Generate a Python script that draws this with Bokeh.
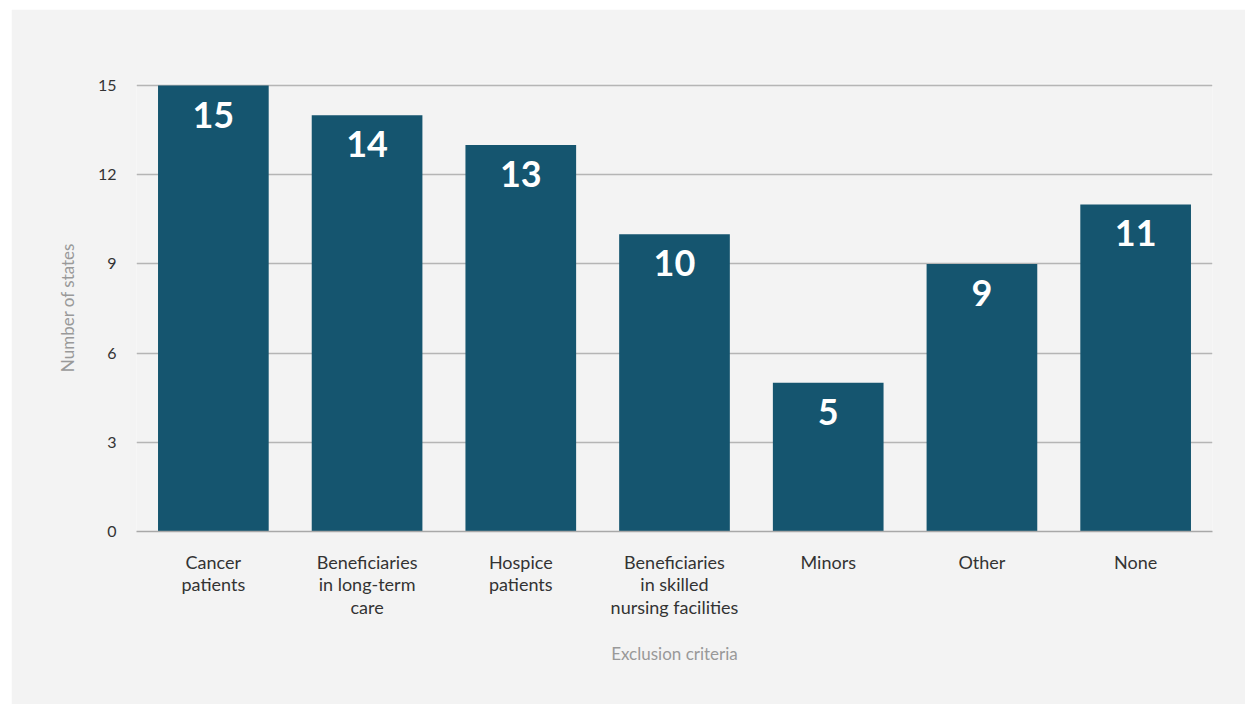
from bokeh.plotting import figure
from bokeh.models import ColumnDataSource, FactorRange, Range1d, FixedTicker
from bokeh.core.properties import value
from bokeh.embed import file_html
from bokeh.resources import INLINE

categories = ["Cancer patients", "Beneficiaries in long-term care", "Hospice patients",
              "Beneficiaries in skilled nursing facilities", "Minors", "Other", "None"]
tick_labels = ["Cancer\npatients", "Beneficiaries\nin long-term\ncare", "Hospice\npatients",
               "Beneficiaries\nin skilled\nnursing facilities", "Minors", "Other", "None"]
counts = [15, 14, 13, 10, 5, 9, 11]
y_ticks = [0, 3, 6, 9, 12, 15]

BG = "#f3f3f3"
BAR = "#15556f"
FONT = "Lato"

# factors are the displayed (multi-line) tick labels, in category order
factor_of = dict(zip(categories, tick_labels))
src = ColumnDataSource(dict(cat=[factor_of[c] for c in categories], count=counts,
                            label=[str(c) for c in counts]))

p = figure(x_range=FactorRange(factors=tick_labels), y_range=Range1d(0, 15.07),
           width=1234, height=695, output_backend="svg", toolbar_location=None,
           min_border_left=125, min_border_right=33, min_border_top=74, min_border_bottom=173,
           background_fill_color=BG, border_fill_color=BG, outline_line_color=None)
p.margin = (9, 0, 0, 11)

p.vbar(x="cat", top="count", width=0.72, source=src, fill_color=BAR, line_color=None)
p.text(x="cat", y="count", text="label", source=src, text_color="white",
       text_font=value(FONT), text_font_style="bold", text_font_size="36px",
       text_align="center", text_baseline="top", y_offset=16)

p.xgrid.grid_line_color = None
p.ygrid.grid_line_color = "#b5b5b5"
p.ygrid.grid_line_width = 1.5
p.yaxis.ticker = FixedTicker(ticks=y_ticks)

p.xaxis.axis_line_color = "#a8a8a8"
p.xaxis.axis_line_width = 1.5
p.xaxis.major_tick_line_color = None
p.xaxis.minor_tick_line_color = None
p.xaxis.major_label_standoff = 13
p.xaxis.major_label_text_font = FONT
p.xaxis.major_label_text_font_size = "18px"
p.xaxis.major_label_text_color = "#333333"
p.xaxis.major_label_text_line_height = 1.03
p.xaxis.axis_label = "Exclusion criteria"
p.xaxis.axis_label_text_font = FONT
p.xaxis.axis_label_text_font_style = "normal"
p.xaxis.axis_label_text_font_size = "17px"
p.xaxis.axis_label_text_color = "#999999"
p.xaxis.axis_label_standoff = 22

p.yaxis.axis_line_color = None
p.yaxis.major_tick_line_color = None
p.yaxis.minor_tick_line_color = None
p.yaxis.major_label_standoff = 14
p.yaxis.major_label_text_font = FONT
p.yaxis.major_label_text_font_size = "16px"
p.yaxis.major_label_text_color = "#333333"
p.yaxis.axis_label = "Number of states"
p.yaxis.axis_label_text_font = FONT
p.yaxis.axis_label_text_font_style = "normal"
p.yaxis.axis_label_text_font_size = "17px"
p.yaxis.axis_label_text_color = "#999999"
p.yaxis.axis_label_standoff = 17

open("out.html", "w").write(file_html(p, INLINE))
